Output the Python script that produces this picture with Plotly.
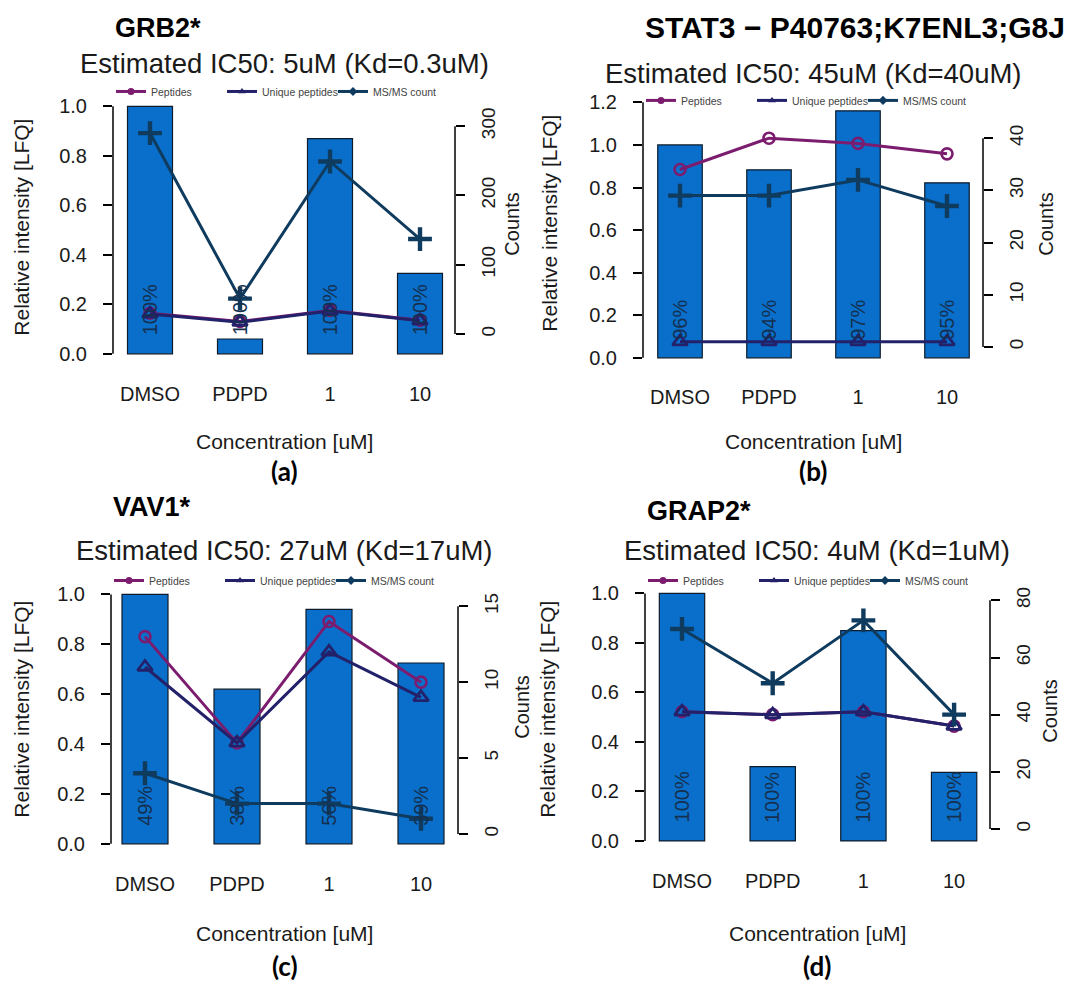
import plotly.graph_objects as go

W, H = 1070, 990

categories = ["DMSO", "PDPD", "1", "10"]

# GRB2
grb2_lfq = [1.0, 0.06, 0.87, 0.325]
grb2_peptides = [30, 18, 34, 20]
grb2_unique = [29, 17, 33, 19]
grb2_msms = [290, 51, 249, 137]
grb2_pct = ["100%", "100%", "100%", "100%"]

# STAT3
stat3_lfq = [1.0, 0.883, 1.16, 0.822]
stat3_peptides = [34, 40, 39, 37]
stat3_unique = [1, 1, 1, 1]
stat3_msms = [29, 29, 32, 27]
stat3_pct = ["96%", "94%", "97%", "95%"]

# VAV1
vav1_lfq = [1.0, 0.62, 0.94, 0.725]
vav1_peptides = [13, 6, 14, 10]
vav1_unique = [11, 6, 12, 9]
vav1_msms = [4, 2, 2, 1]
vav1_pct = ["49%", "38%", "56%", "39%"]

# GRAP2
grap2_lfq = [1.0, 0.30, 0.85, 0.277]
grap2_peptides = [41, 40, 41, 36]
grap2_unique = [41, 40, 41, 36]
grap2_msms = [70, 51, 73, 40]
grap2_pct = ["100%", "100%", "100%", "100%"]

titles = ["GRB2*", "STAT3 \u2212 P40763;K7ENL3;G8J", "VAV1*", "GRAP2*"]
subtitles = ["Estimated IC50: 5uM (Kd=0.3uM)", "Estimated IC50: 45uM (Kd=40uM)",
             "Estimated IC50: 27uM (Kd=17uM)", "Estimated IC50: 4uM (Kd=1uM)"]
panel_tags = ["(a)", "(b)", "(c)", "(d)"]
left_ticks = [[0, 0.2, 0.4, 0.6, 0.8, 1.0], [0, 0.2, 0.4, 0.6, 0.8, 1.0, 1.2],
              [0, 0.2, 0.4, 0.6, 0.8, 1.0], [0, 0.2, 0.4, 0.6, 0.8, 1.0]]
right_ticks = [[0, 100, 200, 300], [0, 10, 20, 30, 40], [0, 5, 10, 15], [0, 20, 40, 60, 80]]
series_names = ["Peptides", "Unique peptides", "MS/MS count"]

data = [
    (grb2_lfq, grb2_peptides, grb2_unique, grb2_msms, grb2_pct),
    (stat3_lfq, stat3_peptides, stat3_unique, stat3_msms, stat3_pct),
    (vav1_lfq, vav1_peptides, vav1_unique, vav1_msms, vav1_pct),
    (grap2_lfq, grap2_peptides, grap2_unique, grap2_msms, grap2_pct),
]

# pixel layout of each panel: plot box, category spacing, y scales, text rows
geo = [
    dict(xl=113, xr=455, yt=90, yb=362, cx0=150, dx=90, l0=352, lppu=249, r0=332, rppu=0.697,
         title_y=24, title_size=27, sub_y=60, leg_y=88, xt_y=440, tag_y=470,
         ytitle_x=22, lab_mid=225, counts_x=512, counts_mid=222),
    dict(xl=643, xr=983, yt=92, yb=365, cx0=680, dx=89, l0=356, lppu=214.2, r0=345, rppu=5.25,
         title_y=24, title_size=30, sub_y=70, leg_y=97, xt_y=440, tag_y=470,
         ytitle_x=550, lab_mid=220, counts_x=1046, counts_mid=222),
    dict(xl=111, xr=458, yt=585, yb=855, cx0=145, dx=92, l0=845, lppu=251, r0=835, rppu=15.27,
         title_y=506, title_size=27, sub_y=550, leg_y=580, xt_y=935, tag_y=968,
         ytitle_x=22, lab_mid=710, counts_x=522, counts_mid=708),
    dict(xl=645, xr=990, yt=585, yb=852, cx0=682, dx=90.7, l0=842, lppu=249, r0=830, rppu=2.875,
         title_y=510, title_size=27, sub_y=550, leg_y=580, xt_y=935, tag_y=968,
         ytitle_x=548, lab_mid=710, counts_x=1050, counts_mid=712),
]

BAR = "#0a6fca"
C_PEP = "#7b1c6f"
C_UNI = "#22216a"
C_MS = "#0f3b5e"
FONT = "Liberation Sans"
TXT = "#1a1a1a"


def fx(px):
    return px / W


def fy(py):
    return 1 - py / H


fig = go.Figure()
annotations = []
shapes = []
layout = dict(
    width=W, height=H, margin=dict(l=0, r=0, t=0, b=0),
    paper_bgcolor="white", plot_bgcolor="rgba(0,0,0,0)",
    font=dict(family=FONT, color=TXT), showlegend=True,
)

for i, (g, (lfq, pep, uni, ms, pct)) in enumerate(zip(geo, data)):
    n = i + 1
    xa = "x" if n == 1 else f"x{n}"
    ya = f"y{2 * n - 1}" if n > 1 else "y"
    yb_name = f"y{2 * n}"
    xkey = "xaxis" if n == 1 else f"xaxis{n}"
    ylkey = "yaxis" if n == 1 else f"yaxis{2 * n - 1}"
    yrkey = f"yaxis{2 * n}"
    legkey = "legend" if n == 1 else f"legend{n}"

    xr = [(g["xl"] - g["cx0"]) / g["dx"], (g["xr"] - g["cx0"]) / g["dx"]]
    yl_range = [(g["l0"] - g["yb"]) / g["lppu"], (g["l0"] - g["yt"]) / g["lppu"]]
    yr_range = [(g["r0"] - g["yb"]) / g["rppu"], (g["r0"] - g["yt"]) / g["rppu"]]
    xdom = [fx(g["xl"]), fx(g["xr"])]
    ydom = [fy(g["yb"]), fy(g["yt"])]

    layout[xkey] = dict(domain=xdom, range=xr, type="category", categoryorder="array",
                        categoryarray=categories, anchor=ya, showgrid=False, showline=False,
                        zeroline=False, ticks="", ticklabelstandoff=16,
                        tickfont=dict(size=20, family=FONT, color=TXT))
    layout[ylkey] = dict(domain=ydom, range=yl_range, anchor=xa, showgrid=False, showline=False,
                         zeroline=False, ticks="outside", ticklen=9, tickwidth=1.5,
                         tickcolor="black", tickvals=left_ticks[i], tickformat=".1f",
                         ticklabelstandoff=12, tickfont=dict(size=20, family=FONT, color=TXT))
    layout[yrkey] = dict(domain=ydom, range=yr_range, anchor=xa, overlaying=ya, side="right",
                         showgrid=False, showline=False, zeroline=False, ticks="outside",
                         ticklen=9, tickwidth=1.5, tickcolor="black", tickvals=right_ticks[i],
                         tickangle=-90, ticklabelstandoff=7,
                         tickfont=dict(size=19, family=FONT, color=TXT))

    # bracket-style axis lines spanning the tick range
    shapes.append(dict(type="line", xref=f"{xa} domain", yref=ya, x0=0, x1=0,
                       y0=left_ticks[i][0], y1=left_ticks[i][-1],
                       line=dict(color="black", width=1.5)))
    shapes.append(dict(type="line", xref=f"{xa} domain", yref=yb_name, x0=1, x1=1,
                       y0=right_ticks[i][0], y1=right_ticks[i][-1],
                       line=dict(color="black", width=1.5)))

    fig.add_trace(go.Bar(x=categories, y=lfq, width=0.5, xaxis=xa, yaxis=ya,
                         marker=dict(color=BAR, line=dict(color="#0d1b2a", width=1.2)),
                         showlegend=False, hoverinfo="skip"))

    styles = [
        (pep, C_PEP, dict(symbol="circle-open", size=11, line=dict(width=2.6, color=C_PEP))),
        (uni, C_UNI, dict(symbol="triangle-up-open", size=13, line=dict(width=2.8, color=C_UNI))),
        (ms, C_MS, dict(symbol="cross-thin-open", size=17, line=dict(width=4.4, color=C_MS))),
    ]
    for name, (vals, col, mk) in zip(series_names, styles):
        fig.add_trace(go.Scatter(x=categories, y=vals, xaxis=xa, yaxis=yb_name,
                                 mode="lines+markers", line=dict(color=col, width=3),
                                 marker=mk, showlegend=False, hoverinfo="skip"))
    # small legend entries
    leg_marks = [("circle", C_PEP), ("triangle-up", C_UNI), ("diamond", C_MS)]
    for name, (sym, col) in zip(series_names, leg_marks):
        fig.add_trace(go.Scatter(x=[None], y=[None], xaxis=xa, yaxis=yb_name, name=name,
                                 mode="lines+markers", line=dict(color=col, width=3),
                                 marker=dict(symbol=sym, size=7, color=col),
                                 legend=legkey, showlegend=True))
    layout[legkey] = dict(orientation="h", x=fx(g["xl"] - 2), y=fy(g["leg_y"]), xanchor="left",
                          yanchor="middle", font=dict(size=10.5, family=FONT, color="#444"),
                          bgcolor="rgba(0,0,0,0)", itemwidth=30, entrywidth=66,
                          entrywidthmode="pixels", tracegroupgap=0, itemclick=False)

    # percentage labels inside bars, at each category's index position
    for j, lab in enumerate(pct):
        annotations.append(dict(x=j, y=0, xref=xa, yref=ya, text=lab, showarrow=False,
                                textangle=-90, yanchor="bottom", xanchor="center", yshift=16,
                                font=dict(size=20, family=FONT, color="#15304f")))

    xc = (g["xl"] + g["xr"]) / 2
    annotations += [
        dict(x=fx(g["xl"]), y=fy(g["title_y"]), xref="paper", yref="paper", text=f"<b>{titles[i]}</b>",
             showarrow=False, xanchor="left", yanchor="middle",
             font=dict(size=g["title_size"], family=FONT, color="black")),
        dict(x=fx(xc), y=fy(g["sub_y"]), xref="paper", yref="paper", text=subtitles[i],
             showarrow=False, xanchor="center", yanchor="middle",
             font=dict(size=27.5, family=FONT, color=TXT)),
        dict(x=fx(xc), y=fy(g["xt_y"]), xref="paper", yref="paper", text="Concentration [uM]",
             showarrow=False, xanchor="center", yanchor="middle",
             font=dict(size=21, family=FONT, color=TXT)),
        dict(x=fx(g["ytitle_x"]), y=fy(g["lab_mid"]), xref="paper", yref="paper",
             text="Relative intensity [LFQ]", textangle=-90, showarrow=False,
             xanchor="center", yanchor="middle", font=dict(size=21, family=FONT, color=TXT)),
        dict(x=fx(g["counts_x"]), y=fy(g["counts_mid"]), xref="paper", yref="paper", text="Counts",
             textangle=-90, showarrow=False, xanchor="center", yanchor="middle",
             font=dict(size=20, family=FONT, color=TXT)),
        dict(x=fx(xc), y=fy(g["tag_y"]), xref="paper", yref="paper", text=f"<b>{panel_tags[i]}</b>",
             showarrow=False, xanchor="center", yanchor="middle",
             font=dict(size=26, family="Lato", color="black")),
    ]

layout["annotations"] = annotations
layout["shapes"] = shapes
fig.update_layout(**layout)
fig.write_html("out.html")
